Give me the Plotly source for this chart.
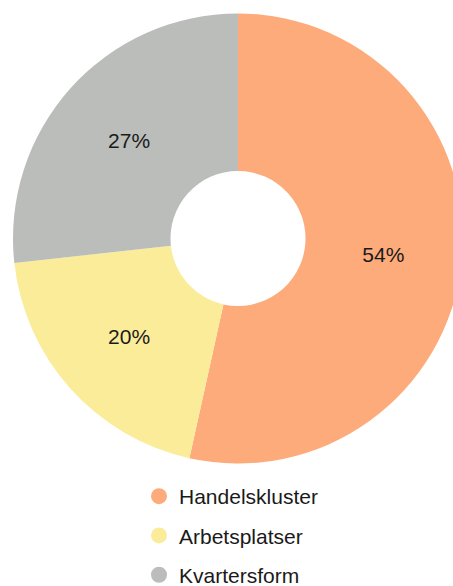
import plotly.graph_objects as go

# Share of area by category (percent)
categories = ["Handelskluster", "Arbetsplatser", "Kvartersform"]
shares = [54, 20, 27]
colors = ["#FDAB7A", "#FBEC9A", "#BBBDBA"]

FIG_W, FIG_H = 476, 586

fig = go.Figure()

fig.add_trace(go.Pie(
    labels=categories,
    values=shares,
    text=[f"{v}%" for v in shares],
    textinfo="text",
    textposition="inside",
    insidetextorientation="horizontal",
    textfont=dict(family="Liberation Sans, Arial, sans-serif", size=21, color="#1a1a1a"),
    marker=dict(colors=colors, line=dict(width=0)),
    hole=0.3,
    sort=False,
    direction="clockwise",
    rotation=0,
    showlegend=False,
    domain=dict(x=[0, 1], y=[1 - 463.5 / FIG_H, 1 - 13.5 / FIG_H]),
))

# Legend entries with round markers
for name, col in zip(categories, colors):
    fig.add_trace(go.Scatter(
        x=[None], y=[None], mode="markers", name=name,
        legendgroup=name,
        marker=dict(symbol="circle", size=18, color=col),
    ))

fig.update_layout(
    width=FIG_W, height=FIG_H,
    margin=dict(l=0, r=0, t=0, b=0, autoexpand=False),
    paper_bgcolor="white", plot_bgcolor="white",
    xaxis=dict(visible=False), yaxis=dict(visible=False),
    legend=dict(
        x=139 / FIG_W, y=1 - 476 / FIG_H, xanchor="left", yanchor="top",
        font=dict(family="Liberation Sans, Arial, sans-serif", size=21, color="#1a1a1a"),
        traceorder="grouped", tracegroupgap=9,
        bgcolor="rgba(0,0,0,0)",
    ),
)

fig.write_html(
    "out.html",
    post_script="document.documentElement.style.overflow='hidden';document.body.style.overflow='hidden';",
)
